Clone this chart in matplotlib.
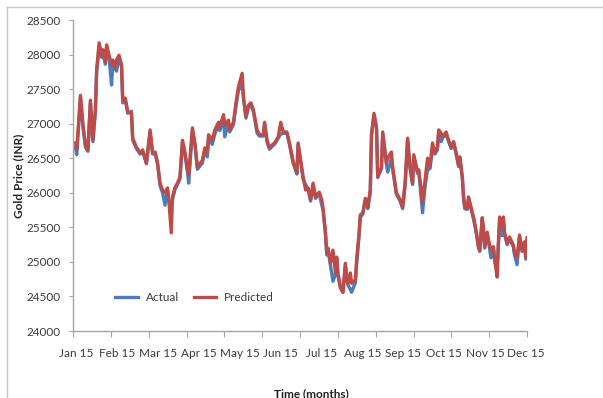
import numpy as np
import matplotlib
matplotlib.use('Agg')
import matplotlib.pyplot as plt
from matplotlib.lines import Line2D

# day of year for each observation
days = [2, 3, 6, 8, 10, 12, 14, 16, 18, 19, 21, 23, 24, 26, 27, 29, 31, 32, 34, 35,
        37, 39, 40, 42, 44, 47, 48, 51, 54, 56, 59, 62, 64, 66, 68, 70, 72, 74, 76, 77,
        79, 80, 82, 84, 86, 88, 90, 92, 93, 96, 98, 100, 104, 106, 108, 109, 112, 114, 117, 118,
        121, 122, 125, 126, 129, 131, 133, 136, 137, 139, 141, 143, 145, 148, 150, 153, 154, 156, 158, 160,
        162, 165, 167, 169, 172, 174, 177, 178, 180, 181, 183, 185, 187, 189, 191, 193, 195, 198, 200, 201,
        203, 204, 205, 207, 209, 211, 212, 213, 215, 217, 219, 220, 221, 223, 224, 227, 228, 230, 231, 233,
        235, 236, 237, 239, 240, 242, 244, 245, 248, 249, 252, 253, 256, 257, 260, 263, 265, 267, 269, 271,
        273, 274, 277, 278, 280, 281, 283, 285, 287, 289, 291, 293, 294, 296, 297, 300, 301, 304, 306, 308,
        310, 311, 313, 314, 315, 317, 318, 321, 322, 324, 326, 327, 329, 330, 331, 333, 334, 336, 338, 339,
        341, 342, 343, 345, 346, 347, 349, 351, 354, 355, 357, 359, 361, 363, 364, 365]

actual = [26650, 26550, 27380, 26950, 26660, 26600, 27300, 26740, 27180, 27740,
          28100, 27960, 28030, 27860, 28090, 27950, 27560, 27880, 27790, 27760,
          27950, 27830, 27300, 27350, 27150, 27180, 26760, 26640, 26560, 26600,
          26420, 26880, 26560, 26570, 26410, 26100, 26000, 25820, 26040, 25880,
          25800, 25900, 26050, 26120, 26200, 26720, 26560, 26300, 26140, 26900,
          26700, 26340, 26430, 26600, 26520, 26780, 26700, 26850, 26980, 26900,
          27080, 26810, 27020, 26880, 26990, 27250, 27480, 27560, 27380, 27080,
          27230, 27260, 27180, 26860, 26820, 26820, 26990, 26730, 26630, 26670,
          26700, 26790, 26850, 26860, 26860, 26700, 26430, 26380, 26270, 26690,
          26450, 26200, 26120, 26050, 25880, 26110, 25920, 25990, 25820, 25760,
          25400, 25100, 25180, 24950, 24720, 24820, 25040, 24800, 24620, 24560,
          24940, 24760, 24670, 24600, 24560, 24700, 24960, 25380, 25650, 25690,
          25890, 25880, 25770, 26010, 26820, 27120, 26930, 26220, 26350, 26850,
          26410, 26300, 26500, 26340, 25980, 25880, 25770, 26110, 26760, 26350,
          26120, 26520, 26280, 26310, 25900, 25710, 26080, 26330, 26350, 26640,
          26560, 26620, 26880, 26740, 26790, 26860, 26790, 26640, 26720, 26560,
          26380, 26500, 26210, 25920, 25770, 25760, 25920, 25690, 25620, 25440,
          25200, 25150, 25610, 25420, 25200, 25410, 25300, 25060, 25200, 25010,
          24900, 25240, 25600, 25380, 25600, 25400, 25250, 25330, 25220, 25100,
          24960, 25360, 25150, 25260, 25040, 25300]

predicted = [26720, 26620, 27410, 26980, 26690, 26620, 27340, 26760, 27200, 27780,
             28170, 27990, 28070, 27890, 28140, 27990, 27850, 27920, 27810, 27920,
             27990, 27850, 27340, 27370, 27170, 27150, 26790, 26660, 26580, 26620,
             26430, 26910, 26580, 26590, 26430, 26140, 26040, 26000, 26070, 25900,
             25420, 25940, 26080, 26140, 26230, 26760, 26590, 26330, 26260, 26940,
             26720, 26370, 26470, 26650, 26590, 26840, 26760, 26910, 27020, 26950,
             27130, 26980, 27050, 26910, 27020, 27300, 27530, 27730, 27390, 27100,
             27270, 27300, 27200, 26910, 26840, 26840, 27020, 26760, 26650, 26690,
             26720, 26810, 27020, 26880, 26880, 26720, 26450, 26400, 26290, 26720,
             26470, 26230, 26040, 26070, 25900, 26140, 25940, 26010, 25900, 25780,
             25420, 25130, 25200, 24980, 25170, 24840, 25070, 24840, 24640, 24560,
             24980, 24780, 24690, 24840, 24690, 24740, 25030, 25420, 25680, 25710,
             25920, 25900, 25790, 26040, 26860, 27150, 26950, 26230, 26370, 26880,
             26430, 26500, 26590, 26370, 26000, 25900, 25790, 26140, 26790, 26370,
             26140, 26550, 26300, 26330, 26040, 25850, 26180, 26500, 26370, 26720,
             26580, 26660, 26910, 26860, 26810, 26880, 26810, 26660, 26740, 26580,
             26400, 26520, 26230, 25940, 25790, 25780, 25940, 25710, 25650, 25460,
             25220, 25170, 25640, 25500, 25220, 25430, 25320, 25170, 25220, 25030,
             24780, 25270, 25650, 25530, 25650, 25420, 25270, 25360, 25240, 25130,
             25060, 25390, 25170, 25290, 25070, 25350]

month_labels = ['Jan 15', 'Feb 15', 'Mar 15', 'Apr 15', 'May 15', 'Jun 15',
                'Jul 15', 'Aug 15', 'Sep 15', 'Oct 15', 'Nov 15', 'Dec 15']

plt.rcParams['font.family'] = ['Lato', 'DejaVu Sans']
text_col = '#3c3c3c'
axis_col = '#a6a6a6'

fig = plt.figure(figsize=(6.03, 3.98), dpi=100)
ax = fig.add_axes([73 / 603, 1 - 331 / 398, 454 / 603, 311 / 398])

ax.plot(days, actual, color='#4a7ebb', lw=2.4, label='Actual', solid_joinstyle='round')
ax.plot(days, predicted, color='#be4b48', lw=2.4, label='Predicted', solid_joinstyle='round')

ax.set_xlim(0, 365)
ax.set_ylim(24000, 28500)
ax.set_yticks(np.arange(24000, 28501, 500))

# month boundary ticks, labels spread evenly below them
ax.set_xticks(np.linspace(0, 365, 13))
ax.set_xticklabels([])
ax.set_xticks(np.linspace(2.5, 364, 12), minor=True)
ax.set_xticklabels(month_labels, minor=True)
ax.tick_params(axis='x', which='major', direction='out', length=4, color=axis_col)
ax.tick_params(axis='x', which='minor', length=0, pad=12, labelsize=8.5, labelcolor=text_col)
ax.tick_params(axis='y', direction='out', length=3, color=axis_col, pad=6,
               labelsize=8.5, labelcolor=text_col)

for s in ['top', 'right']:
    ax.spines[s].set_visible(False)
for s in ['left', 'bottom']:
    ax.spines[s].set_color(axis_col)
    ax.spines[s].set_linewidth(1.0)

ax.set_ylabel('Gold Price (INR)', fontsize=8.5, fontweight='bold', color='#222222')
ax.yaxis.set_label_coords(-49 / 454, 0.5)
fig.text(311 / 603, 1 - 388 / 398, 'Time (months)', ha='center', va='top',
         fontsize=8.5, fontweight='bold', color='#222222')

leg = ax.legend(loc='lower left', bbox_to_anchor=(0.07, 0.055), ncol=2, frameon=False,
                fontsize=8.5, handlelength=1.9, columnspacing=1.2, handletextpad=0.7)
for t in leg.get_texts():
    t.set_color(text_col)

# outer chart border
fig.add_artist(Line2D([7 / 603, 1], [1 - 7 / 398, 1 - 7 / 398], color='#c8c8c8', lw=1))
fig.add_artist(Line2D([7 / 603, 7 / 603], [0, 1 - 7 / 398], color='#c8c8c8', lw=1))

fig.savefig('out.png', dpi=100)
